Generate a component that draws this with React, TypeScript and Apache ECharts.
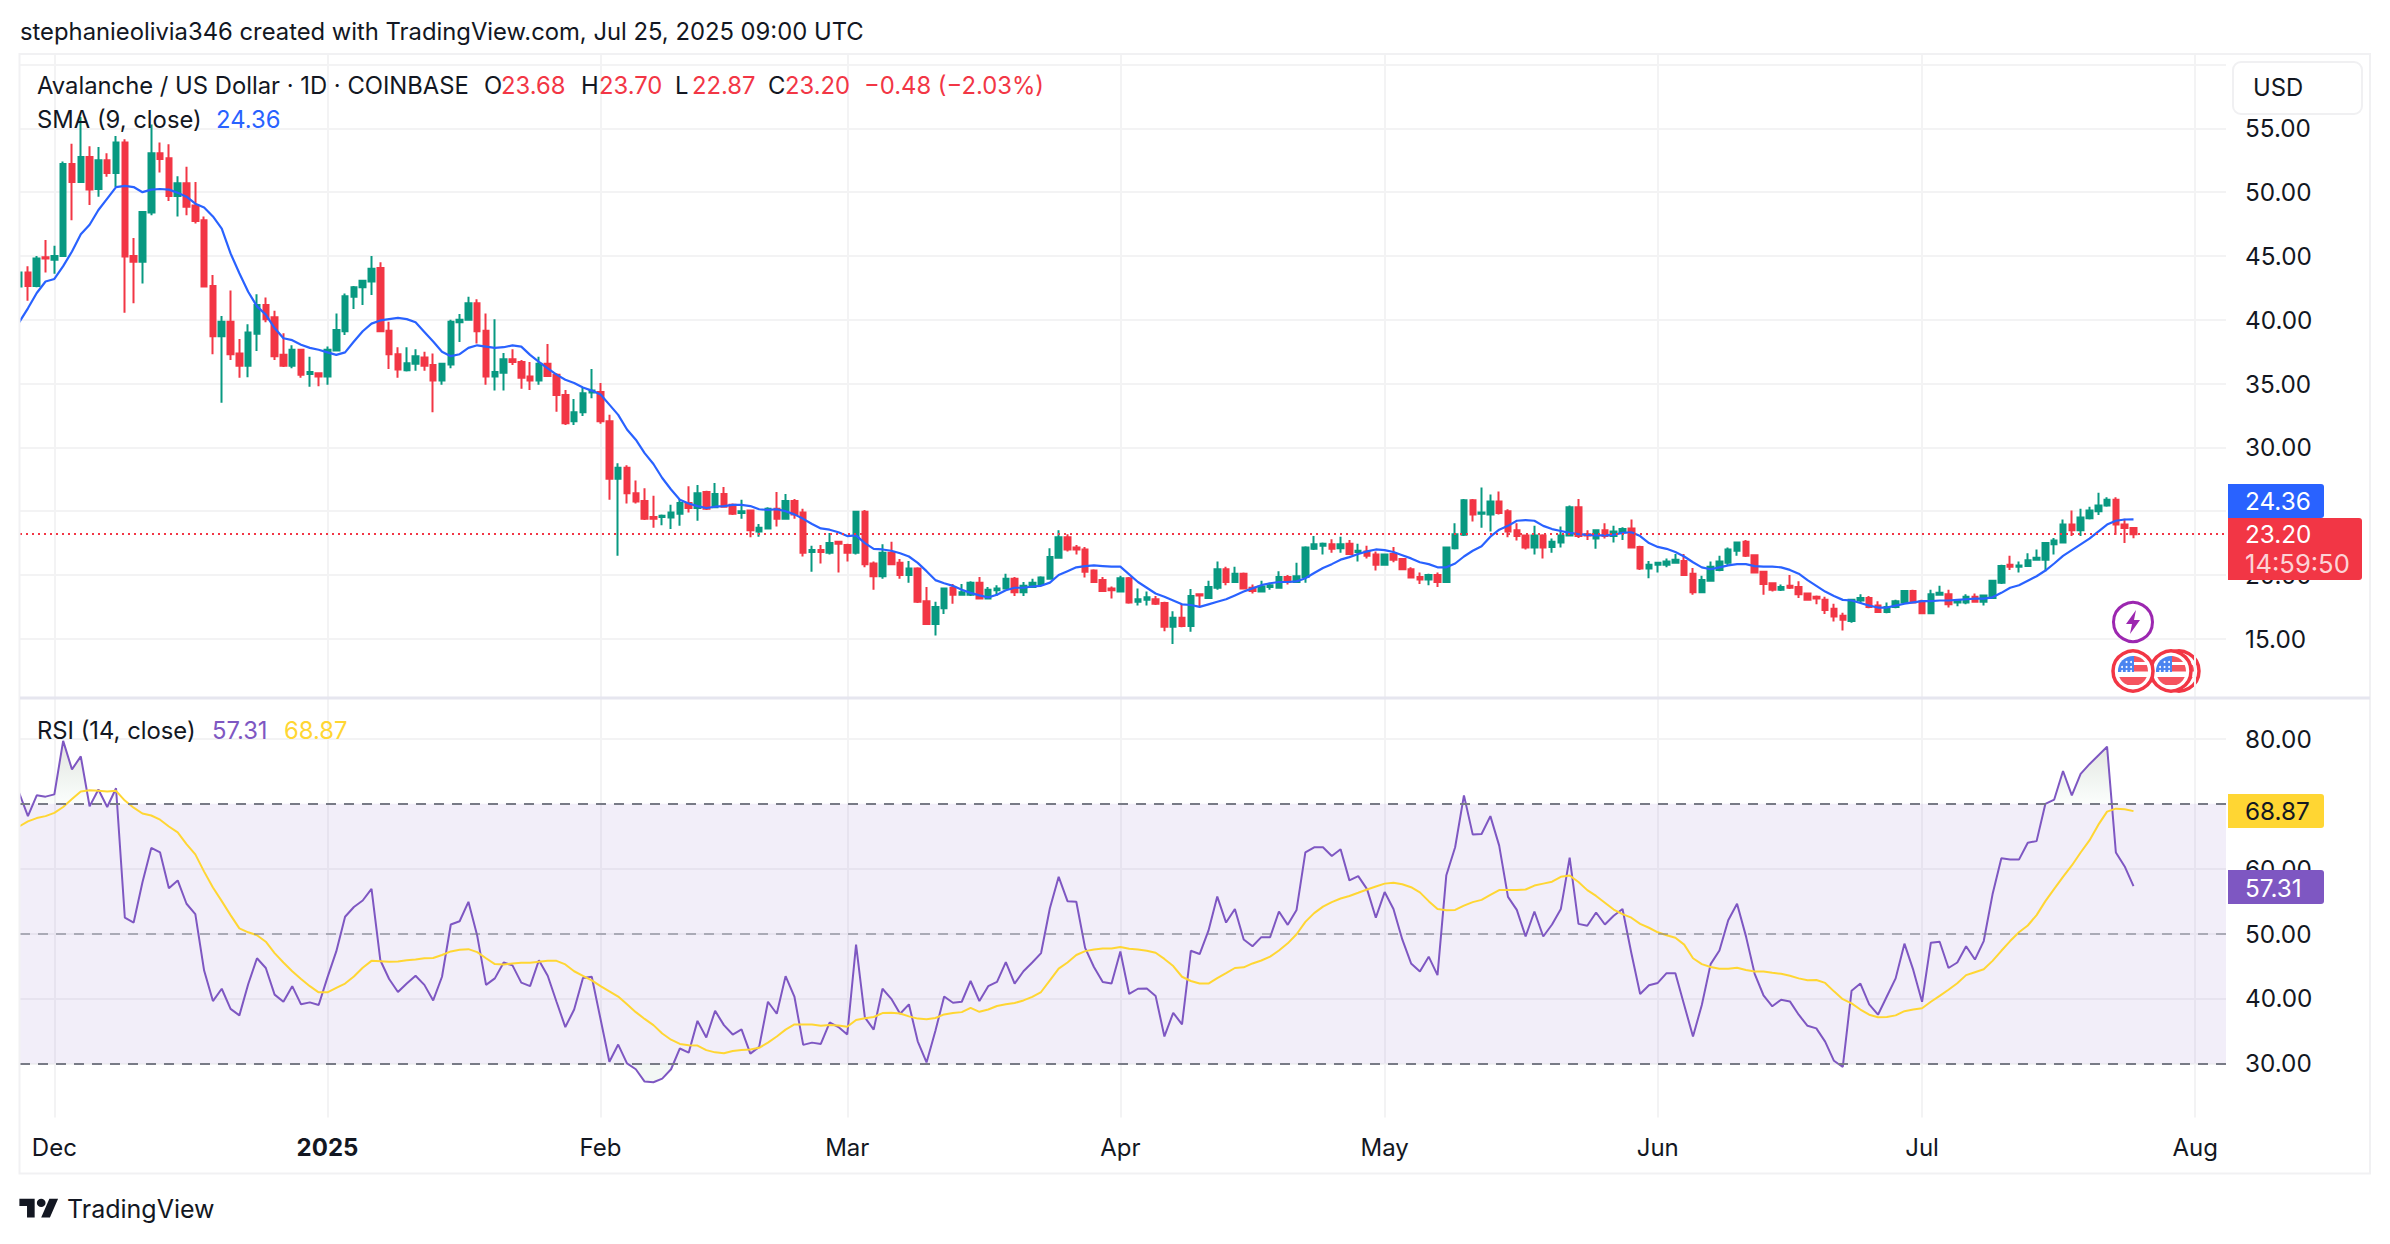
import React, { useEffect, useRef } from "react";
import * as echarts from "echarts";

const opens = [
  42.6,43.7,42.65,44.9,44.7,45.0,52.2,50.8,52.75,50.25,
  52.5,51.5,53.9,45.0,44.55,48.4,53.05,52.65,49.7,50.7,
  48.95,47.8,42.65,38.7,39.85,37.35,36.4,38.9,41.15,40.2,
  37.25,36.4,37.65,35.75,35.8,35.55,37.6,39.1,41.8,42.55,
  43.0,44.05,39.15,37.3,36.05,36.55,37.05,36.45,35.25,36.5,
  39.8,40.0,41.3,39.15,35.55,35.85,36.9,36.7,35.55,35.25,
  36.55,35.7,34.1,32.05,32.75,34.3,34.35,32.05,27.55,28.4,
  26.4,25.8,24.55,24.55,24.5,24.8,25.65,25.25,26.5,25.3,
  26.35,25.5,24.85,25.05,23.4,23.65,25.2,24.4,25.8,24.9,
  21.8,21.95,21.75,22.6,22.35,21.75,24.95,20.9,19.9,21.75,
  20.95,20.0,20.5,17.95,16.15,17.4,19.0,18.45,18.45,19.4,
  18.15,18.8,18.95,19.7,18.65,19.05,19.3,19.7,21.35,22.95,
  22.15,22.0,20.35,19.6,18.95,18.7,19.75,17.9,18.05,18.1,
  17.8,15.95,16.65,16.0,18.5,18.2,19.0,20.45,19.45,20.1,
  19.0,18.7,19.05,19.0,19.85,19.45,19.85,22.05,22.3,22.4,
  22.1,22.45,21.8,21.85,21.6,20.8,21.65,21.25,20.45,19.85,
  19.65,20.0,19.45,22.1,23.15,25.85,24.8,24.75,25.75,25.0,
  23.5,23.1,22.15,23.1,22.2,22.55,23.1,25.3,23.2,22.85,
  23.5,23.05,23.35,23.65,22.2,20.5,20.8,20.8,20.95,21.1,
  20.1,18.65,19.55,20.4,20.95,21.9,22.6,21.55,20.25,19.35,
  18.85,19.15,19.05,18.55,18.3,18.05,17.35,16.8,16.4,18.0,
  18.2,17.6,17.1,17.5,17.85,18.75,17.95,17.0,18.45,18.5,
  17.85,17.85,18.3,17.9,18.2,19.4,20.8,20.65,20.7,21.2,
  21.2,22.4,22.55,23.95,23.5,24.45,25.0,25.45,25.9,23.95,
  23.68,
];
const closes = [
  43.7,42.65,44.8,44.8,45.0,52.2,50.8,52.75,50.2,52.5,
  51.5,53.9,44.95,44.55,48.45,53.05,52.6,49.7,50.7,48.85,
  47.75,42.6,38.7,39.85,37.3,36.4,39.0,41.15,40.05,37.15,
  36.4,37.65,35.7,35.9,35.55,37.65,39.2,41.85,42.55,43.05,
  44.0,39.1,37.3,36.1,36.6,37.15,36.4,35.25,36.55,39.85,
  40.0,41.3,39.1,35.55,35.9,36.9,36.7,35.45,35.25,36.55,
  35.6,34.1,31.9,32.75,34.25,34.45,32.05,27.55,28.4,26.4,
  25.75,24.4,24.4,24.65,24.9,25.65,25.25,26.4,25.2,26.35,
  25.35,24.8,25.0,23.5,23.7,25.2,24.4,25.8,24.75,21.75,
  21.95,21.8,22.5,22.45,21.75,24.95,20.85,19.9,21.75,20.85,
  20.0,20.5,17.9,16.15,17.5,18.95,18.45,18.65,19.4,18.15,
  18.85,18.95,19.7,18.65,19.15,19.4,19.8,21.4,22.95,22.0,
  22.0,20.25,19.45,18.75,18.8,19.75,17.85,18.1,18.25,17.75,
  15.95,16.65,16.0,18.35,18.4,19.05,20.45,19.45,20.1,18.95,
  18.75,19.1,19.2,19.85,19.45,19.9,22.15,22.4,22.45,22.05,
  22.4,21.65,21.9,21.5,20.8,21.6,21.2,20.45,19.8,19.65,
  20.0,19.45,22.15,23.2,25.85,24.75,24.9,25.75,24.85,23.4,
  23.05,22.15,23.1,22.15,22.6,23.1,25.3,23.05,23.1,23.5,
  23.05,23.4,23.6,22.15,20.5,20.8,20.95,21.05,21.2,20.0,
  18.65,19.6,20.65,21.05,22.0,22.55,21.5,20.2,19.3,18.85,
  19.05,19.0,18.5,18.05,18.15,17.25,16.75,16.5,18.05,18.2,
  17.5,17.1,17.5,17.95,18.75,17.85,17.0,18.5,18.6,17.7,
  18.0,18.3,17.9,18.4,19.55,20.7,20.65,20.75,21.15,21.35,
  22.5,22.7,23.95,23.5,24.5,25.05,25.45,25.9,23.95,23.68,
  23.2,
];
const lows = [
  42.0,41.5,42.55,43.7,43.6,45.0,47.8,50.8,49.0,49.65,
  51.2,50.4,40.55,41.3,42.85,48.2,51.55,49.3,48.1,48.2,
  47.55,42.6,37.3,33.5,36.85,35.45,35.5,37.55,39.8,36.85,
  36.3,36.2,35.45,34.75,34.8,34.9,37.55,38.8,40.85,41.15,
  41.95,39.1,36.15,35.45,35.95,36.0,36.0,32.75,34.9,36.2,
  38.25,39.95,38.15,34.9,34.45,34.45,36.45,34.6,34.5,34.9,
  35.6,32.8,31.75,31.75,32.45,33.85,31.85,25.9,21.5,25.6,
  25.6,24.3,23.7,23.9,23.6,23.85,24.9,24.25,25.1,25.25,
  25.3,24.7,24.4,22.95,23.0,23.65,23.8,24.4,24.4,21.45,
  20.25,20.9,21.6,20.2,21.05,21.6,20.6,18.85,19.7,20.85,
  19.7,19.4,17.8,16.1,15.25,16.95,17.75,18.45,18.35,18.15,
  18.15,18.35,18.9,18.35,18.35,19.05,19.3,19.7,21.3,21.85,
  21.6,19.8,19.45,18.7,18.15,18.65,17.75,17.6,17.6,17.65,
  15.6,14.6,15.9,15.55,17.5,18.2,18.85,19.2,19.45,18.9,
  18.55,18.7,18.85,19.0,19.25,19.45,19.4,21.95,21.6,21.75,
  21.75,21.65,21.05,21.3,20.35,20.8,21.0,20.45,19.8,19.3,
  19.2,19.05,19.45,22.0,23.05,24.2,23.7,23.4,24.75,22.95,
  22.7,22.0,21.6,21.3,21.75,22.15,23.1,22.9,22.75,22.05,
  22.85,22.55,22.75,22.15,20.4,19.75,20.2,20.6,20.9,20.0,
  18.45,18.65,19.55,20.3,20.7,21.5,21.4,20.2,18.45,18.7,
  18.75,18.9,18.2,18.05,17.7,16.95,16.35,15.65,16.25,17.8,
  17.4,17.1,17.0,17.4,17.85,17.85,16.95,16.95,18.4,17.45,
  17.55,17.7,17.85,17.6,18.2,19.3,20.4,20.2,20.65,21.2,
  20.3,21.6,22.55,23.05,23.05,24.35,24.7,25.35,23.15,22.5,
  22.87,
];
const highs = [
  44.0,44.2,45.0,46.25,45.8,52.4,53.8,55.9,53.6,53.55,
  53.05,54.4,54.15,46.4,48.45,55.3,53.9,53.75,51.25,52.0,
  50.8,48.1,43.5,40.3,42.3,38.5,39.65,42.0,41.75,40.7,
  38.95,38.0,37.7,37.1,35.8,37.9,40.5,42.05,42.65,43.05,
  45.0,44.5,39.85,37.85,37.85,37.7,37.5,37.35,36.6,40.0,
  40.45,41.8,41.6,40.5,40.05,37.4,37.7,36.85,36.7,37.1,
  38.1,35.8,34.5,33.8,34.7,36.15,35.05,32.55,28.75,28.6,
  27.4,26.8,26.2,24.75,25.5,25.95,26.95,27.05,26.6,27.2,
  26.9,25.6,25.9,25.1,24.0,25.3,26.5,26.35,25.95,25.2,
  22.3,22.35,23.3,22.6,22.45,24.95,25.1,21.05,22.4,22.6,
  21.25,21.1,20.6,19.05,17.9,18.95,19.3,19.3,19.5,19.85,
  19.05,19.2,20.1,19.85,19.45,19.7,19.9,22.1,23.5,23.2,
  22.35,22.2,20.45,19.85,19.1,19.95,19.85,18.95,18.7,18.35,
  17.9,17.15,17.75,18.9,18.5,19.55,21.05,20.65,20.65,20.2,
  19.25,19.55,19.4,20.3,20.0,20.95,22.25,23.05,22.55,22.8,
  23.0,22.75,22.45,22.3,21.85,21.65,22.2,21.25,20.6,20.2,
  20.1,20.2,22.15,24.05,25.95,25.95,26.85,26.3,26.55,25.15,
  24.05,23.15,23.85,23.2,22.85,23.8,25.45,25.95,23.5,23.5,
  24.05,23.85,23.75,24.35,22.3,21.1,21.0,21.3,21.65,21.65,
  20.55,19.95,21.05,21.5,22.15,22.55,22.75,21.6,20.3,19.35,
  19.25,20.0,19.5,18.55,18.4,18.3,17.75,17.05,18.05,18.5,
  18.35,17.95,17.85,18.05,18.75,18.85,18.05,18.85,19.15,18.85,
  18.1,18.5,18.55,18.45,19.6,20.8,21.5,21.05,21.7,22.0,
  22.55,22.9,24.35,25.05,25.2,25.35,26.45,26.1,26.1,24.4,
  23.7,
];
const sma = [
  39.8,40.9,42.1,43.0,43.2,44.2,45.35,46.7,47.45,48.6,
  49.5,50.4,50.5,50.4,50.0,50.2,50.25,50.2,49.95,49.65,
  49.1,48.8,48.1,47.15,45.2,43.65,42.2,41.05,40.4,39.35,
  38.55,38.4,38.05,37.8,37.65,37.45,37.25,37.45,38.3,39.1,
  39.7,39.95,40.05,40.15,40.05,39.8,39.05,38.3,37.5,37.15,
  37.3,37.8,38.0,37.9,37.8,37.85,38.0,37.9,37.25,36.7,
  36.2,35.7,35.3,35.05,34.7,34.45,34.15,33.35,32.55,31.4,
  30.6,29.55,28.7,27.6,26.7,25.9,25.6,25.4,25.25,25.35,
  25.4,25.5,25.5,25.4,25.15,25.1,25.15,25.0,24.75,24.4,
  24.0,23.65,23.55,23.35,23.05,23.1,22.5,22.05,22.0,21.9,
  21.7,21.45,20.95,20.3,19.6,19.35,19.15,18.85,18.6,18.4,
  18.25,18.45,18.8,19.0,19.0,19.1,19.15,19.4,20.0,20.3,
  20.6,20.7,20.75,20.7,20.65,20.65,20.05,19.45,19.0,18.55,
  18.3,18.0,17.7,17.65,17.5,17.7,17.9,18.1,18.4,18.7,
  18.95,19.2,19.35,19.45,19.45,19.5,19.75,20.15,20.55,20.85,
  21.2,21.4,21.65,21.85,22.0,21.95,21.8,21.55,21.3,21.0,
  20.85,20.6,20.6,20.9,21.45,21.9,22.25,23.0,23.55,23.85,
  24.25,24.3,24.25,23.85,23.6,23.45,23.3,23.2,23.15,23.1,
  23.1,23.15,23.3,23.35,23.05,22.5,22.2,22.05,21.8,21.45,
  21.0,20.6,20.45,20.6,20.75,20.85,20.85,20.7,20.65,20.65,
  20.6,20.4,20.1,19.6,19.15,18.7,18.35,18.05,18.0,17.8,
  17.6,17.45,17.45,17.6,17.75,17.85,17.95,17.95,18.0,18.0,
  18.05,18.1,18.15,18.15,18.25,18.6,19.0,19.2,19.55,19.9,
  20.35,20.9,21.5,21.95,22.4,22.85,23.4,23.95,24.25,24.35,
  24.36,
];
const rsi = [
  71.7,68.1,71.3,71.1,71.45,79.7,75.3,77.3,69.6,72.2,
  69.5,72.4,52.45,51.7,57.9,63.2,62.5,57.0,58.2,54.6,
  53.0,44.3,39.6,41.5,38.4,37.4,42.2,46.2,44.7,40.6,
  39.5,41.9,39.1,39.4,39.0,43.25,47.25,52.6,54.1,55.1,
  56.9,45.9,43.0,41.0,42.3,43.5,42.1,39.7,43.35,51.4,
  51.9,54.9,49.65,42.1,43.1,45.55,45.1,42.45,41.9,45.9,
  43.5,39.5,35.6,38.3,43.15,43.35,36.8,30.25,32.9,30.0,
  29.1,27.2,27.1,27.65,29.1,32.3,31.65,36.55,34.0,38.1,
  35.9,34.45,35.25,31.5,32.55,39.5,37.65,43.45,40.3,32.85,
  33.2,33.0,36.3,35.6,34.45,48.3,37.1,35.2,41.5,39.95,
  37.65,39.1,33.4,30.15,35.0,40.3,39.35,39.5,42.7,39.6,
  41.9,42.55,45.6,42.3,44.2,45.55,47.0,53.9,58.75,55.0,
  54.9,47.8,44.85,42.55,42.3,47.25,40.7,41.5,41.55,40.4,
  34.15,37.8,36.0,47.35,46.85,50.45,55.7,51.7,53.8,49.1,
  48.05,49.45,49.45,53.4,51.35,53.65,62.5,63.3,63.3,61.95,
  63.0,58.2,58.85,56.85,52.45,56.4,53.8,49.1,45.4,44.15,
  46.45,43.6,59.0,63.3,71.3,65.25,65.35,68.1,63.55,55.65,
  53.65,49.55,53.4,49.55,51.4,53.8,61.7,51.5,51.2,53.25,
  51.4,52.75,53.8,47.0,40.7,42.05,42.4,43.9,43.9,39.0,
  34.15,39.0,45.3,47.4,52.05,54.6,49.65,43.8,40.5,38.8,
  39.8,39.55,37.5,35.8,35.4,33.35,30.4,29.45,41.2,42.3,
  39.1,37.5,40.3,43.1,48.45,44.4,39.5,48.6,48.75,44.7,
  45.55,48.05,46.0,48.85,56.05,61.6,61.4,61.4,64.0,64.25,
  70.0,70.65,75.05,71.3,74.6,76.1,77.45,78.8,62.5,60.35,
  57.31,
];
const rsiMa = [
  66.5,67.3,67.8,68.1,68.6,69.5,70.75,71.9,72.1,72.0,
  71.9,72.0,70.5,69.4,68.5,68.2,67.55,66.5,65.6,63.8,
  62.2,59.55,57.1,55.0,52.85,50.8,50.2,49.75,48.75,47.0,
  45.55,44.2,43.0,41.9,40.95,40.95,41.65,42.3,43.4,44.75,
  45.8,45.75,45.65,45.7,45.9,46.0,46.2,46.25,46.7,47.25,
  47.5,47.6,47.15,46.2,45.3,45.25,45.4,45.5,45.5,45.65,
  45.8,45.8,45.25,44.2,43.5,42.8,41.9,41.1,40.3,39.1,
  37.9,36.85,35.9,34.6,33.65,33.0,32.8,32.75,32.05,31.7,
  31.55,31.9,32.05,32.15,32.4,33.2,34.15,35.2,36.0,36.0,
  36.0,35.8,35.9,35.85,35.65,36.7,36.95,37.15,37.75,37.8,
  37.7,37.25,36.9,36.8,37.0,37.55,37.75,37.9,38.55,37.95,
  38.3,38.85,39.1,39.3,39.7,40.25,41.0,42.8,44.6,45.55,
  46.7,47.3,47.55,47.7,47.7,47.95,47.65,47.55,47.35,47.05,
  46.1,45.0,43.35,42.7,42.3,42.3,43.15,43.9,44.7,44.8,
  45.4,45.85,46.45,47.4,48.5,49.9,51.8,53.15,54.15,54.85,
  55.4,55.8,56.3,56.8,57.25,57.7,57.85,57.6,57.15,56.35,
  55.0,53.8,53.6,53.65,54.3,54.85,55.2,55.95,56.7,56.7,
  56.7,56.8,57.4,57.7,58.0,58.75,58.95,57.95,56.7,55.8,
  54.75,53.7,53.0,52.45,51.5,50.9,50.2,49.75,49.35,48.3,
  46.2,45.3,44.85,44.6,44.6,44.75,44.4,44.15,44.15,43.95,
  43.8,43.5,43.1,42.8,42.85,42.4,41.1,39.9,39.25,38.3,
  37.5,37.1,37.15,37.4,38.05,38.3,38.5,39.5,40.4,41.35,
  42.35,43.6,44.05,44.5,45.8,47.35,48.85,50.2,51.25,52.85,
  55.0,56.9,58.75,60.5,62.5,64.35,66.75,68.8,69.25,69.15,
  68.87,
];
const priceTicks = [15, 20, 25, 30, 35, 40, 45, 50, 55, 60];
const priceLabels = [15, 20, 30, 35, 40, 45, 50, 55];
const rsiTicks = [30, 40, 50, 60, 80];
const monthStarts = ["2024-12-01", "2025-01-01", "2025-02-01", "2025-03-01", "2025-04-01", "2025-05-01", "2025-06-01", "2025-07-01", "2025-08-01"];
const monthNames = ["Dec", "2025", "Feb", "Mar", "Apr", "May", "Jun", "Jul", "Aug"];
const firstDay = "2024-11-27";

const GREEN = "#089981";
const RED = "#F23645";
const BLUE = "#2962FF";
const PURPLE = "#7E57C2";
const YELLOW = "#FFD633";
const GRID = "#F3F3F4";
const INK = "#131722";
const FONT = "Inter, 'Noto Sans', sans-serif";

const chord = (r: number, y1: number, y2: number, x0?: number) => {
  const a = Math.sqrt(r * r - y1 * y1);
  const b = Math.sqrt(r * r - y2 * y2);
  const la = x0 ?? -a;
  const lb = x0 ?? -b;
  const left = x0 === undefined ? `A ${r} ${r} 0 0 1 ${la} ${y1}` : `L ${la} ${y1}`;
  return `M ${la} ${y1} L ${a} ${y1} A ${r} ${r} 0 0 1 ${b} ${y2} L ${lb} ${y2} ${left} Z`;
};
echarts.graphic.registerShape("tvLogo", echarts.graphic.extendPath("M14 22H7V11H0V4h14v18zM28 22h-8l7.5-18h8L28 22zM24 8a4 4 0 1 1-8 0a4 4 0 0 1 8 0z", {}));
echarts.graphic.registerShape("bolt", echarts.graphic.extendPath("M3 -12 L-7 2 L-1 2 L-3 12 L7 -2 L1 -2 Z", {}));
echarts.graphic.registerShape("flagCanton", echarts.graphic.extendPath("M 1 -15 L 1 1 L -15 1 A 15 15 0 0 1 1 -15 Z", {}));
echarts.graphic.registerShape("flagTop", echarts.graphic.extendPath(chord(15, -14.9, -9, 1), {}));
echarts.graphic.registerShape("flagMid", echarts.graphic.extendPath(chord(15, -6, 0.5, 1), {}));
echarts.graphic.registerShape("flagLow", echarts.graphic.extendPath(chord(15, 6, 14, undefined), {}));

function text(x: number, y: number, s: string, fill: string, extra: any = {}) {
  return {
    type: "text", x, y, silent: true, z: 30,
    style: { text: s, fill, fontFamily: FONT, fontSize: 23.8, align: "left", verticalAlign: "middle", ...extra },
  };
}
function flag(cx: number, cy: number) {
  const stars: any[] = [];
  [-11, -6.5, -2].forEach((sx) => [-9, -4, 0].forEach((sy) => {
    if (sx * sx + sy * sy < 170) stars.push({ type: "circle", shape: { cx: sx, cy: sy, r: 1 }, style: { fill: "#fff" } });
  }));
  return {
    type: "group", x: cx, y: cy, silent: true, z: 30,
    children: [
      { type: "circle", shape: { cx: 0, cy: 0, r: 20 }, style: { fill: "#fff", stroke: RED, lineWidth: 3.5 } },
      { type: "flagTop", style: { fill: "#F5545F" } },
      { type: "flagMid", style: { fill: "#F5545F" } },
      { type: "flagLow", style: { fill: "#F5545F" } },
      { type: "flagCanton", style: { fill: "#4A84F0" } },
      ...stars,
    ],
  };
}

const DAY = 86400000;
const T0 = Date.parse(firstDay);

// keeps the parts of a line beyond a level, adding the points where it crosses that level
function beyond(values: number[], level: number, sign: number) {
  const out: any[] = [];
  values.forEach((v, i) => {
    if (i > 0 && (values[i - 1] - level) * (v - level) < 0) {
      const f = (level - values[i - 1]) / (v - values[i - 1]);
      out.push([i - 1 + f, level]);
    }
    out.push([i, (v - level) * sign > 0 ? v : level]);
  });
  return out;
}

export default function App() {
  const ref = useRef<HTMLDivElement>(null);
  useEffect(() => {
    const chart = echarts.init(ref.current!, undefined, { renderer: "svg" });
    const monthDays = monthStarts.map((d) => (Date.parse(d) - T0) / DAY);
    const xBase = {
      type: "value",
      min: 0.1,
      max: 250.5,
      axisLine: { show: false },
      axisTick: { show: false, customValues: monthDays },
      splitLine: { show: true, lineStyle: { color: GRID, width: 2 } },
    };
    const line = (name: string, data: number[], color: string, ax: number, w: number, extra: any = {}) => ({
      name, type: "line", xAxisIndex: ax, yAxisIndex: ax, showSymbol: false, silent: true,
      data: data.map((v, i) => [i, v]),
      lineStyle: { color, width: w }, itemStyle: { color }, ...extra,
    });
    const dashed = (v: number, color: string) => ({
      yAxis: v, lineStyle: { color, width: 2, type: [10, 8] },
    });
    const option: any = {
      animation: false,
      backgroundColor: "#ffffff",
      textStyle: { fontFamily: FONT },
      grid: [
        { left: 20, top: 55, width: 2206, height: 643 },
        { left: 20, top: 698, width: 2206, height: 419.4 },
      ],
      xAxis: [
        { ...xBase, gridIndex: 0, axisLabel: { show: false, customValues: monthDays } },
        {
          ...xBase, gridIndex: 1,
          axisLabel: {
            customValues: monthDays, margin: 18, fontFamily: FONT, fontSize: 24, color: INK, hideOverlap: false,
            formatter: (v: number) => {
              const n = monthNames[monthDays.indexOf(v)];
              return n === "2025" ? "{b|2025}" : n;
            },
            rich: { b: { fontWeight: 700, fontFamily: FONT, fontSize: 24, color: INK } },
          },
        },
      ],
      yAxis: [
        {
          type: "value", gridIndex: 0, position: "right", min: 10.36, max: 60.75, scale: true,
          axisLine: { show: false },
          axisTick: { show: false, customValues: priceTicks },
          splitLine: { show: true, lineStyle: { color: GRID, width: 2 } },
          axisLabel: {
            customValues: priceLabels, align: "left", margin: 19, fontFamily: FONT, fontSize: 24.3, color: INK,
            padding: [4, 0, 0, 0],
            formatter: (v: number) => v.toFixed(2),
          },
        },
        {
          type: "value", gridIndex: 1, position: "right", min: 21.68, max: 86.3, scale: true,
          axisLine: { show: false },
          axisTick: { show: false, customValues: rsiTicks },
          splitLine: { show: true, lineStyle: { color: GRID, width: 2 } },
          axisLabel: {
            customValues: rsiTicks, align: "left", margin: 19, fontFamily: FONT, fontSize: 24.3, color: INK,
            padding: [4, 0, 0, 0],
            formatter: (v: number) => v.toFixed(2),
          },
        },
      ],
      series: [
        {
          name: "Avalanche / US Dollar", type: "candlestick", xAxisIndex: 0, yAxisIndex: 0, silent: true,
          barWidth: 6,
          data: closes.map((c, i) => [i, opens[i], c, lows[i], highs[i]]),
          itemStyle: { color: GREEN, color0: RED, borderColor: GREEN, borderColor0: RED, borderWidth: 2 },
          markLine: {
            silent: true, symbol: "none", label: { show: false },
            data: [{ yAxis: closes[closes.length - 1], lineStyle: { color: RED, width: 2, type: [2, 4] } }],
          },
        },
        line("SMA (9, close)", sma, BLUE, 0, 2.2, { z: 4 }),
        {
          name: "RSI above", type: "line", xAxisIndex: 1, yAxisIndex: 1, showSymbol: false, silent: true, z: 1,
          data: beyond(rsi, 70, 1), lineStyle: { width: 0 },
          areaStyle: {
            origin: 70, opacity: 1,
            color: { type: "linear", x: 0, y: 0, x2: 0, y2: 1, colorStops: [{ offset: 0, color: "rgba(120,105,90,0.2)" }, { offset: 1, color: "rgba(80,160,110,0.02)" }] },
          },
        },
        {
          name: "RSI below", type: "line", xAxisIndex: 1, yAxisIndex: 1, showSymbol: false, silent: true, z: 1,
          data: beyond(rsi, 30, -1), lineStyle: { width: 0 },
          areaStyle: { origin: 30, opacity: 1, color: "rgba(80,140,110,0.07)" },
        },
        line("RSI (14, close)", rsi, PURPLE, 1, 2, {
          z: 3,
          markArea: {
            silent: true, itemStyle: { color: "rgba(126,87,194,0.1)" }, label: { show: false },
            data: [[{ yAxis: 70 }, { yAxis: 30 }]],
          },
          markLine: {
            silent: true, symbol: "none", label: { show: false },
            data: [dashed(70, "#787B86"), dashed(50, "rgba(120,123,134,0.55)"), dashed(30, "#787B86")],
          },
        }),
        line("RSI-based MA", rsiMa, YELLOW, 1, 2, { z: 4 }),
      ],
      graphic: {
        elements: [
          { type: "rect", silent: true, z: 5, shape: { x: 0, y: 54, width: 19, height: 645 }, style: { fill: "#fff" } },
          { type: "rect", silent: true, z: 6, shape: { x: 19.5, y: 54, width: 2350.5, height: 1119.5 }, style: { fill: "none", stroke: "#F1F1F3", lineWidth: 2 } },
          { type: "line", silent: true, z: 6, shape: { x1: 20, y1: 698, x2: 2370, y2: 698 }, style: { stroke: "#E6E6EF", lineWidth: 3 } },

          text(20, 31, "stephanieolivia346 created with TradingView.com, Jul 25, 2025 09:00 UTC", INK),
          text(37, 85, "Avalanche / US Dollar · 1D · COINBASE", INK),
          text(484, 85, "O", INK), text(501, 85, "23.68", RED),
          text(581, 85, "H", INK), text(599, 85, "23.70", RED),
          text(675, 85, "L", INK), text(692, 85, "22.87", RED),
          text(768, 85, "C", INK), text(785, 85, "23.20", RED),
          text(864, 85, "−0.48 (−2.03%)", RED),
          text(37, 119, "SMA (9, close)", INK), text(216, 119, "24.36", BLUE),
          text(37, 730, "RSI (14, close)", INK), text(212, 730, "57.31", PURPLE), text(284, 730, "68.87", YELLOW),

          { type: "rect", silent: true, z: 28, shape: { x: 2233, y: 62, width: 129, height: 52, r: 8 }, style: { fill: "#fff", stroke: "#F0F0F2", lineWidth: 2 } },
          text(2253, 87, "USD", INK),

          { type: "rect", silent: true, z: 28, shape: { x: 2228, y: 484, width: 96, height: 34, r: [0, 3, 3, 0] }, style: { fill: BLUE } },
          text(2245, 501, "24.36", "#fff", { fontSize: 24.3 }),
          { type: "rect", silent: true, z: 28, shape: { x: 2228, y: 518, width: 134, height: 62, r: [0, 3, 3, 0] }, style: { fill: RED } },
          text(2245, 534, "23.20", "#fff", { fontSize: 24.3 }),
          text(2245, 563, "14:59:50", "rgba(255,255,255,0.8)", { fontSize: 25.6 }),

          { type: "rect", silent: true, z: 28, shape: { x: 2228, y: 794, width: 96, height: 34, r: [0, 3, 3, 0] }, style: { fill: YELLOW } },
          text(2245, 811, "68.87", INK, { fontSize: 24.3 }),
          { type: "rect", silent: true, z: 28, shape: { x: 2228, y: 870, width: 96, height: 34, r: [0, 3, 3, 0] }, style: { fill: PURPLE } },
          text(2245, 888, "57.31", "#fff", { fontSize: 24.3 }),

          { type: "circle", silent: true, z: 30, shape: { cx: 2133, cy: 622, r: 19.5 }, style: { fill: "#fff", stroke: "#9C27B0", lineWidth: 3 } },
          { type: "bolt", silent: true, z: 30, x: 2133, y: 622, style: { fill: "#9C27B0" } },
          flag(2179, 671), flag(2171, 671), flag(2133, 671),

          { type: "tvLogo", silent: true, z: 30, x: 19.4, y: 1194.6, scaleX: 1.09, scaleY: 1.04, style: { fill: INK } },
          text(67, 1209, "TradingView", INK, { fontSize: 25 }),
        ],
      },
    };
    chart.setOption(option);
    return () => chart.dispose();
  }, []);
  return <div ref={ref} style={{ position: "absolute", left: 0, top: 0, width: 2390, height: 1244, background: "#fff" }} />;
}
